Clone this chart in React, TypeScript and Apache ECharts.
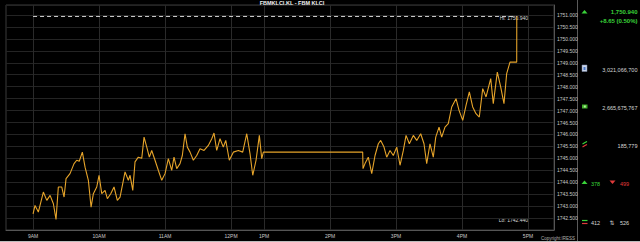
import React, { useEffect, useRef } from 'react';
import * as echarts from 'echarts';

const chartTitle = 'FBMKLCI.KL - FBM KLCI';
// display hours after 9AM (lunch break compressed on this axis)
const tickHours = [0, 1, 2, 3, 3.5, 4.5, 5.5, 6.5, 7.5];
const tickLabels = ['9AM', '10AM', '11AM', '12PM', '1PM', '2PM', '3PM', '4PM', '5PM'];

const times = [
  0.0, 0.03, 0.08, 0.156, 0.208, 0.258, 0.308, 0.348, 0.383, 0.435, 0.47, 0.5, 0.56, 0.621, 0.662, 0.7,
  0.747, 0.788, 0.838, 0.879, 0.914, 0.965, 1.0, 1.041, 1.091, 1.126, 1.177, 1.227, 1.277, 1.318, 1.394,
  1.444, 1.47, 1.511, 1.545, 1.595, 1.647, 1.682, 1.723, 1.762, 1.798, 1.848, 1.898, 1.95, 2.0, 2.05,
  2.101, 2.136, 2.177, 2.227, 2.262, 2.303, 2.338, 2.379, 2.429, 2.48, 2.53, 2.591, 2.656, 2.708, 2.742,
  2.783, 2.833, 2.883, 2.92, 2.974, 3.035, 3.111, 3.177, 3.238, 3.288, 3.329, 3.379, 3.429, 3.465, 3.49,
  4.995, 5.0, 5.03, 5.08, 5.132, 5.182, 5.232, 5.268, 5.318, 5.359, 5.409, 5.459, 5.511, 5.561, 5.611,
  5.652, 5.702, 5.762, 5.814, 5.874, 5.924, 5.965, 6.015, 6.065, 6.102, 6.152, 6.192, 6.242, 6.292,
  6.344, 6.409, 6.455, 6.511, 6.561, 6.611, 6.662, 6.712, 6.762, 6.814, 6.864, 6.935, 6.974, 7.035,
  7.086, 7.136, 7.177, 7.227, 7.329, 7.33,
];
const prices = [
  1742.68, 1743.03, 1742.75, 1743.59, 1743.24, 1743.45, 1743.10, 1742.44, 1743.80, 1743.80, 1743.38,
  1744.15, 1744.36, 1744.78, 1744.92, 1744.88, 1745.26, 1744.63, 1744.08, 1742.96, 1743.52, 1743.80,
  1744.29, 1743.52, 1743.66, 1743.31, 1743.52, 1743.80, 1743.24, 1743.38, 1744.43, 1744.08, 1744.29,
  1743.66, 1744.85, 1745.05, 1745.0, 1745.89, 1745.47, 1745.05, 1745.33, 1744.92, 1744.50, 1744.08,
  1744.36, 1744.99, 1744.50, 1745.05, 1744.57, 1744.78, 1745.12, 1746.03, 1745.47, 1745.26, 1744.92,
  1745.12, 1745.40, 1745.33, 1745.54, 1745.82, 1746.06, 1745.33, 1745.82, 1745.47, 1745.75, 1744.92,
  1745.26, 1745.33, 1745.26, 1746.03, 1745.19, 1744.29, 1744.92, 1745.96, 1744.99, 1745.26,
  1745.26, 1744.57, 1744.78, 1745.05, 1744.36, 1745.12, 1745.61, 1745.75, 1745.47, 1745.05, 1745.33,
  1745.12, 1745.47, 1744.71, 1745.33, 1745.96, 1745.61, 1745.96, 1745.75, 1746.03, 1745.61, 1744.78,
  1745.61, 1745.05, 1745.89, 1746.31, 1745.89, 1746.31, 1746.45, 1747.15, 1747.50, 1747.01, 1746.59,
  1747.22, 1747.78, 1747.15, 1746.87, 1746.73, 1747.92, 1747.57, 1748.34, 1747.29, 1748.61, 1747.99,
  1747.29, 1748.55, 1749.03, 1749.03, 1750.94,
];

const dayHigh = 1750.94;
const dayLow = 1742.44;
const lastPrice = '1,750.940';
const changeText = '+8.65 (0.50%)';
const volumeText = '3,021,066,700';
const valueText = '2,665,675,767';
const tradesText = '185,779';
const advancers = '378';
const decliners = '499';
const unchanged = '412';
const untraded = '526';

const FONT = '"Liberation Sans", Arial, sans-serif';

export default function App() {
  const ref = useRef<HTMLDivElement>(null);
  useEffect(() => {
    if (!ref.current) return;
    const chart = echarts.init(ref.current, null, { renderer: 'svg' });
    const green = '#39d339';
    const red = '#e03a3a';
    const txt = '#d8d8d8';
    const option: any = {
      animation: false,
      backgroundColor: '#000',
      textStyle: { fontFamily: FONT },
      grid: {
        left: 6, top: 5, width: 548, height: 225,
        show: true, borderColor: '#3a3a3a', borderWidth: 1, backgroundColor: 'transparent',
      },
      xAxis: {
        type: 'value', min: -0.41, max: 7.894,
        axisLine: { show: true, onZero: false, lineStyle: { color: '#555', width: 1 } },
        axisTick: { show: false, customValues: tickHours },
        axisLabel: {
          customValues: tickHours,
          color: '#c8c8c8', fontSize: 5, fontFamily: FONT, margin: 3,
          formatter: (v: number) => {
            const i = tickHours.findIndex((t) => Math.abs(t - v) < 1e-6);
            return i >= 0 ? tickLabels[i] : '';
          },
        },
        splitLine: { show: true, lineStyle: { color: '#2a2a2a', width: 1 } },
      },
      yAxis: {
        type: 'value', position: 'right', min: 1742, max: 1751.42, interval: 0.5,
        axisLine: { show: true, onZero: false, lineStyle: { color: '#555', width: 1 } },
        axisTick: { show: false },
        axisLabel: {
          color: '#c8c8c8', fontSize: 5, fontFamily: FONT, margin: 3,
          showMinLabel: false, showMaxLabel: false,
          formatter: (v: number) => v.toFixed(3),
        },
        splitLine: { show: true, lineStyle: { color: '#242424', width: 1 } },
      },
      series: [
        {
          type: 'line', data: [[0, dayHigh], [7.33, dayHigh]], symbol: 'none', silent: true,
          lineStyle: { color: '#d0d0d0', width: 1, type: [4, 3] },
        },
        {
          type: 'line', data: times.map((t, i) => [t, prices[i]]), symbol: 'none',
          lineStyle: { color: '#e6a42a', width: 1.1 },
        },
      ],
      graphic: [
        { type: 'text', style: { text: chartTitle, x: 292, y: 3, fill: '#f0f0f0', font: `bold 5.5px ${FONT}`, align: 'center', verticalAlign: 'middle' } },
        { type: 'text', style: { text: 'Hi: ' + dayHigh.toFixed(3), x: 528, y: 17.5, fill: '#d8d8d8', font: `5px ${FONT}`, align: 'right', verticalAlign: 'middle' } },
        { type: 'text', style: { text: 'Lo: ' + dayLow.toFixed(3), x: 528, y: 220, fill: '#d8d8d8', font: `5px ${FONT}`, align: 'right', verticalAlign: 'middle' } },
        { type: 'text', style: { text: 'Copyright:IRESS', x: 575, y: 238.5, fill: '#b0b0b0', font: `4.5px ${FONT}`, align: 'right', verticalAlign: 'middle' } },
        { type: 'line', shape: { x1: 577.5, y1: 0, x2: 577.5, y2: 241 }, style: { stroke: '#5a5a5a', lineWidth: 1 } },
        { type: 'rect', shape: { x: 0, y: 241, width: 640, height: 1 }, style: { fill: '#bdbdbd' } },
        // price block
        { type: 'polygon', shape: { points: [[581.5, 13.5], [587.5, 13.5], [584.5, 10]] }, style: { fill: green } },
        { type: 'text', style: { text: lastPrice, x: 637.5, y: 12, fill: green, font: `bold 6px ${FONT}`, align: 'right', verticalAlign: 'middle' } },
        { type: 'text', style: { text: changeText, x: 637.5, y: 20.5, fill: green, font: `bold 6px ${FONT}`, align: 'right', verticalAlign: 'middle' } },
        // volume
        { type: 'rect', shape: { x: 582, y: 65, width: 5, height: 6.5 }, style: { fill: '#c9d4e8', stroke: '#7a8aa8', lineWidth: 0.5 } },
        { type: 'rect', shape: { x: 583.5, y: 67, width: 2, height: 3 }, style: { fill: '#4a78c8' } },
        { type: 'text', style: { text: volumeText, x: 637.5, y: 69.5, fill: txt, font: `5.5px ${FONT}`, align: 'right', verticalAlign: 'middle' } },
        // value
        { type: 'rect', shape: { x: 582, y: 104.5, width: 5.5, height: 4 }, style: { fill: '#3fae2a' } },
        { type: 'rect', shape: { x: 583.8, y: 105.5, width: 2, height: 2 }, style: { fill: '#b8f0a0' } },
        { type: 'text', style: { text: valueText, x: 637.5, y: 107.5, fill: txt, font: `5.5px ${FONT}`, align: 'right', verticalAlign: 'middle' } },
        // trades
        { type: 'polyline', shape: { points: [[582.5, 144], [585, 142.5], [587, 141.5]] }, style: { stroke: green, lineWidth: 1.2 } },
        { type: 'polyline', shape: { points: [[582.5, 147], [585, 145.5], [587, 144.5]] }, style: { stroke: red, lineWidth: 1.2 } },
        { type: 'text', style: { text: tradesText, x: 637.5, y: 145.5, fill: txt, font: `5.5px ${FONT}`, align: 'right', verticalAlign: 'middle' } },
        // advancers / decliners
        { type: 'polygon', shape: { points: [[581.5, 184], [587.5, 184], [584.5, 180.5]] }, style: { fill: green } },
        { type: 'text', style: { text: advancers, x: 591, y: 184, fill: green, font: `5.5px ${FONT}`, align: 'left', verticalAlign: 'middle' } },
        { type: 'polygon', shape: { points: [[609.5, 180.5], [615.5, 180.5], [612.5, 184]] }, style: { fill: red } },
        { type: 'text', style: { text: decliners, x: 620, y: 184, fill: red, font: `5.5px ${FONT}`, align: 'left', verticalAlign: 'middle' } },
        // unchanged / untraded
        { type: 'polyline', shape: { points: [[582, 220.5], [587.5, 220.5]] }, style: { stroke: green, lineWidth: 1.2 } },
        { type: 'polyline', shape: { points: [[582, 223.5], [587.5, 223.5]] }, style: { stroke: red, lineWidth: 1.2 } },
        { type: 'text', style: { text: unchanged, x: 591, y: 222.5, fill: txt, font: `5.5px ${FONT}`, align: 'left', verticalAlign: 'middle' } },
        { type: 'text', style: { text: '⇅', x: 612, y: 222, fill: '#c8c8c8', font: `6px "DejaVu Sans", sans-serif`, align: 'center', verticalAlign: 'middle' } },
        { type: 'text', style: { text: untraded, x: 620, y: 222.5, fill: txt, font: `5.5px ${FONT}`, align: 'left', verticalAlign: 'middle' } },
      ],
    };
    chart.setOption(option);
    return () => chart.dispose();
  }, []);
  return (
    <div
      ref={ref}
      style={{ position: 'fixed', left: 0, top: 0, width: 640, height: 242, background: '#000' }}
    />
  );
}
